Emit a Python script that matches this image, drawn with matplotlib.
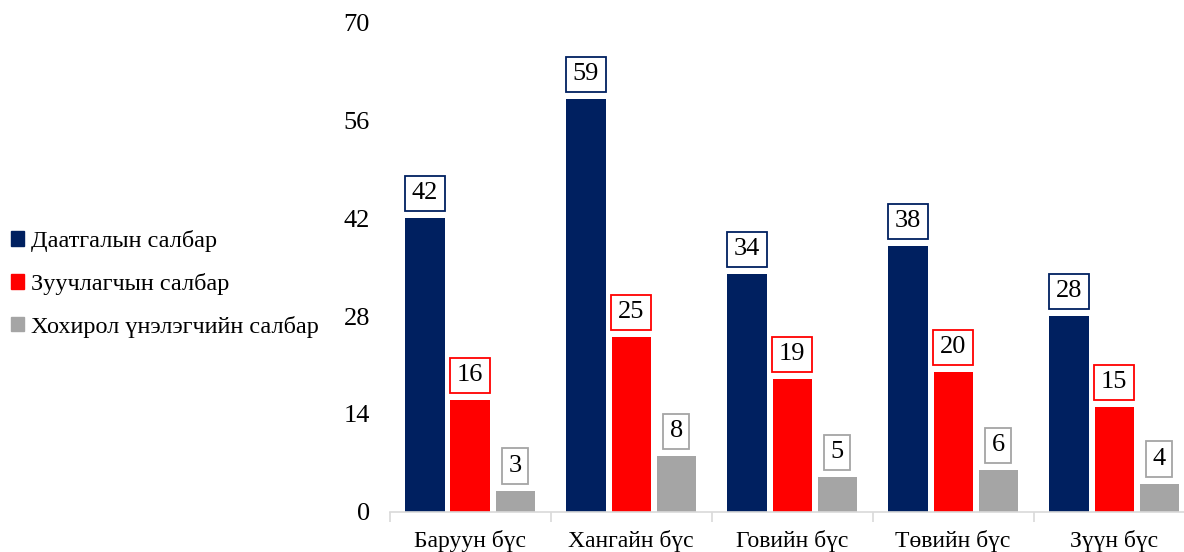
import numpy as np
import matplotlib.pyplot as plt
from matplotlib.patches import Patch

plt.rcParams['font.family'] = ['Liberation Serif', 'DejaVu Serif']

# Өгөгдөл
regions = ["Баруун бүс", "Хангайн бүс", "Говийн бүс", "Төвийн бүс", "Зүүн бүс"]
series_names = ["Даатгалын салбар", "Зуучлагчын салбар", "Хохирол үнэлэгчийн салбар"]
insurance = [42, 59, 34, 38, 28]
brokers = [16, 25, 19, 20, 15]
assessors = [3, 8, 5, 6, 4]
colors = ["#002060", "#FF0000", "#A5A5A5"]

fig = plt.figure(figsize=(11.84, 5.52), dpi=100)
ax = fig.add_axes([0.329, 0.0725, 0.68, 0.8875])

x = np.arange(len(regions))
w = 0.243
step = 0.28
for i, (vals, col) in enumerate(zip([insurance, brokers, assessors], colors)):
    pos = x + (i - 1) * step
    ax.bar(pos, vals, width=w, color=col, zorder=2)
    for p, v in zip(pos, vals):
        ax.annotate(str(v), (p, v), xytext=(0, 10), textcoords="offset points",
                    ha="center", va="bottom", fontsize=19,
                    bbox=dict(boxstyle="square,pad=0.25", fc="white", ec=col, lw=1.3))

ax.set_ylim(0, 70)
ax.set_yticks([0, 14, 28, 42, 56, 70])
ax.set_xlim(-0.5, 4.44)
ax.set_xticks(x)
ax.set_xticklabels(regions)
ax.set_xticks(np.arange(-0.5, 5, 1), minor=True)
ax.tick_params(axis="x", which="major", length=0, labelsize=17, pad=13)
ax.tick_params(axis="x", which="minor", length=7, color="#D9D9D9", width=1.2)
ax.tick_params(axis="y", length=0, labelsize=19, pad=14)
for s in ["top", "right", "left"]:
    ax.spines[s].set_visible(False)
ax.spines["bottom"].set_color("#D9D9D9")
ax.spines["bottom"].set_linewidth(1.2)

handles = [Patch(color=c) for c in colors]
fig.legend(handles, series_names, loc="center left", bbox_to_anchor=(0.005, 0.4855),
           frameon=False, fontsize=17.5, handlelength=0.55, handleheight=0.55,
           handletextpad=0.3, labelspacing=0.85, borderpad=0.1, borderaxespad=0.1)

fig.savefig("out.png", dpi=100)
